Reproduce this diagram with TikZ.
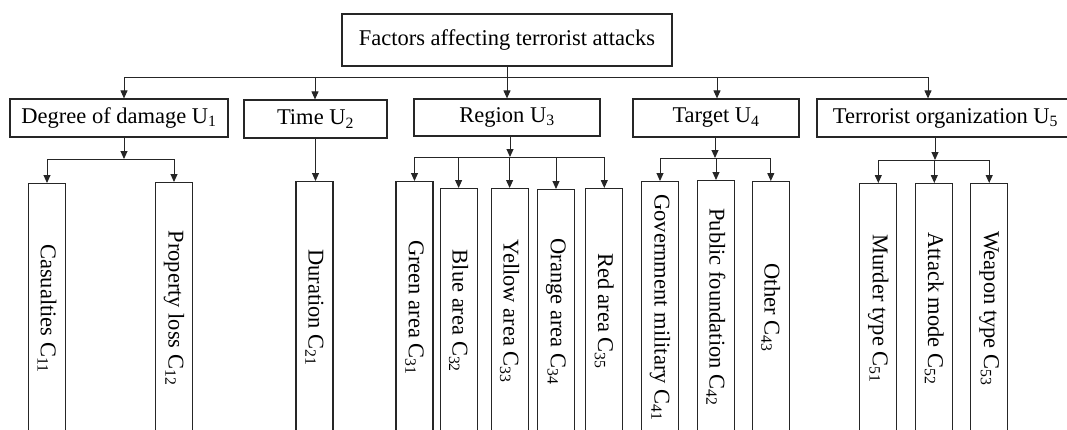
\documentclass[tikz,border=0pt]{standalone}
\usepackage{fontspec}
\setmainfont{Liberation Serif}
\usetikzlibrary{arrows.meta,calc}

\newcommand{\vlabel}[1]{\rotatebox{-90}{#1}}

\begin{document}
\begin{tikzpicture}[x=1pt, y=1pt,
    factor/.style={rectangle, draw=black!85, line width=1.2pt, inner sep=0pt,
        minimum height=38pt, font=\fontsize{22.5}{27}\selectfont},
    leaf/.style={rectangle, draw=black!85, line width=1.2pt, inner sep=0pt,
        minimum width=37pt, anchor=north, font=\fontsize{22.5}{27}\selectfont},
    arr/.style={-{Triangle[length=8pt,width=7pt]}, line width=1pt, black!85},
    link/.style={line width=1pt, black!85}
]
    \useasboundingbox (0,0) rectangle (1067,-429);

    % Goal
    \node[factor, minimum width=330pt, minimum height=52pt] (root) at (507,-40)
        {Factors affecting terrorist attacks};

    % Criteria layer
    \node[factor, minimum width=218pt] (u1) at (119,-118) {Degree of damage U\textsubscript{1}};
    \node[factor, minimum width=143pt] (u2) at (315.5,-119) {Time U\textsubscript{2}};
    \node[factor, minimum width=186pt, minimum height=37pt] (u3) at (507,-117.5) {Region U\textsubscript{3}};
    \node[factor, minimum width=166pt] (u4) at (716,-118) {Target U\textsubscript{4}};
    \node[factor, minimum width=257pt] (u5) at (945.5,-118) {Terrorist organization U\textsubscript{5}};

    % Index layer (boxes run off the bottom edge)
    \node[leaf, minimum height=250pt] (c11) at (47,-183) {\vlabel{Casualties C\textsubscript{11}}};
    \node[leaf, minimum height=251pt] (c12) at (174,-182) {\vlabel{Property loss C\textsubscript{12}}};
    \node[leaf, minimum height=252pt] (c21) at (314.5,-181) {\vlabel{Duration C\textsubscript{21}}};
    \node[leaf, minimum height=252pt] (c31) at (414.5,-181) {\vlabel{Green area C\textsubscript{31}}};
    \node[leaf, minimum height=245pt] (c32) at (458.6,-188) {\vlabel{Blue area C\textsubscript{32}}};
    \node[leaf, minimum height=245pt] (c33) at (509.6,-188) {\vlabel{Yellow area C\textsubscript{33}}};
    \node[leaf, minimum height=244pt] (c34) at (556,-189) {\vlabel{Orange area C\textsubscript{34}}};
    \node[leaf, minimum height=245pt] (c35) at (604.3,-188) {\vlabel{Red area C\textsubscript{35}}};
    \node[leaf, minimum height=252pt] (c41) at (660,-181) {\vlabel{Government military C\textsubscript{41}}};
    \node[leaf, minimum height=253pt] (c42) at (716,-180) {\vlabel{Public foundation C\textsubscript{42}}};
    \node[leaf, minimum height=252pt] (c43) at (770.8,-181) {\vlabel{Other C\textsubscript{43}}};
    \node[leaf, minimum height=250pt] (c51) at (878.3,-183) {\vlabel{Murder type C\textsubscript{51}}};
    \node[leaf, minimum height=250pt] (c52) at (934.3,-183) {\vlabel{Attack mode C\textsubscript{52}}};
    \node[leaf, minimum height=250pt] (c53) at (989.2,-183) {\vlabel{Weapon type C\textsubscript{53}}};

    % Goal -> criteria
    \coordinate (t1) at (124,-77);
    \coordinate (t2) at (315,-77);
    \coordinate (t4) at (717,-77);
    \coordinate (t5) at (928,-77);
    \draw[link] (t1) -- (t5);
    \draw[arr] (root) -- (u3);
    \foreach \i in {1,2,4,5}
        \draw[arr] (t\i) -- (t\i |- u\i.north);

    % Criteria -> indices
    \coordinate (d1) at (124,-159);
    \coordinate (d3) at (510,-157);
    \coordinate (d4) at (715,-158);
    \coordinate (d5) at (935,-160);

    \draw[arr] (d1 |- u1.south) -- (d1);
    \draw[link] (c11.north |- d1) -- (c12.north |- d1);
    \foreach \c in {c11,c12}
        \draw[arr] (\c.north |- d1) -- (\c.north);

    \draw[arr] (u2.south) -- (u2.south |- c21.north);

    \draw[arr] (d3 |- u3.south) -- (d3);
    \draw[link] (c31.north |- d3) -- (c35.north |- d3);
    \foreach \c in {c31,c32,c33,c34,c35}
        \draw[arr] (\c.north |- d3) -- (\c.north);

    \draw[arr] (d4 |- u4.south) -- (d4);
    \draw[link] (c41.north |- d4) -- (c43.north |- d4);
    \foreach \c in {c41,c42,c43}
        \draw[arr] (\c.north |- d4) -- (\c.north);

    \draw[arr] (d5 |- u5.south) -- (d5);
    \draw[link] (c51.north |- d5) -- (c53.north |- d5);
    \foreach \c in {c51,c52,c53}
        \draw[arr] (\c.north |- d5) -- (\c.north);
\end{tikzpicture}
\end{document}
